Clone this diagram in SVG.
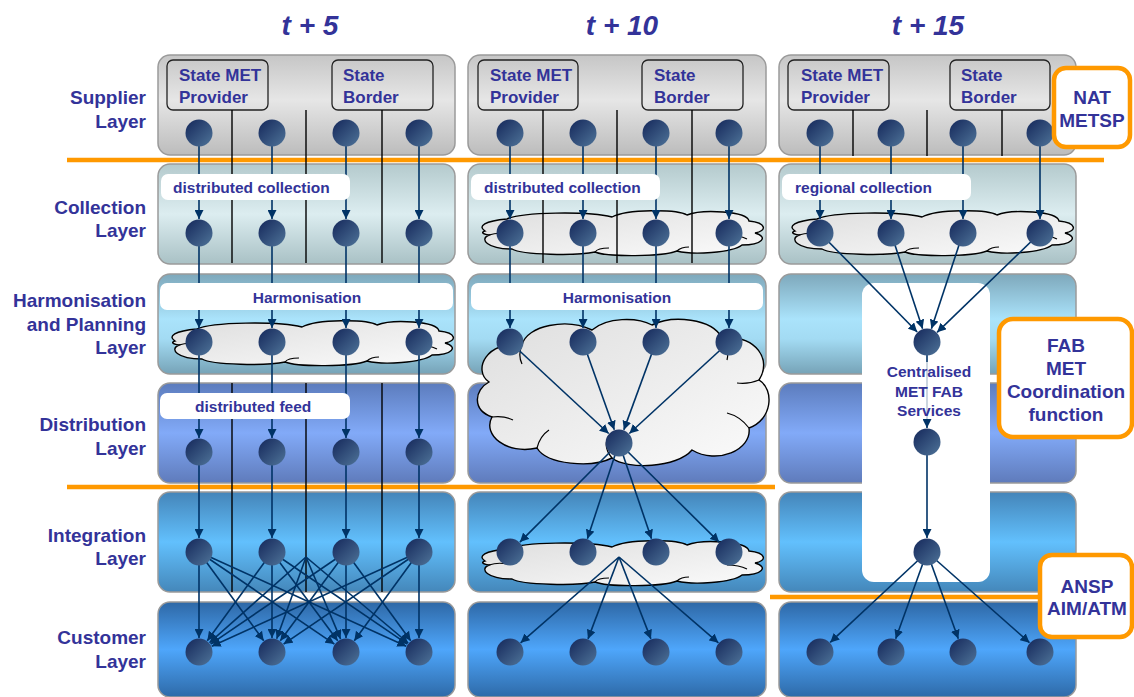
<svg xmlns="http://www.w3.org/2000/svg" xmlns:xlink="http://www.w3.org/1999/xlink" width="1134" height="697" viewBox="0 0 1134 697">
<style>
.t{font-family:"Liberation Sans",Arial,sans-serif;font-weight:bold;fill:#333399}
.lay{font-size:19px;text-anchor:end}
.ttl{font-size:28px;font-style:italic;text-anchor:middle}
.box{font-size:17px}
.bar{font-size:15.5px}
.ob{font-size:19px;text-anchor:middle}
.cen{font-size:15.5px;text-anchor:middle}
.pn{stroke:#9a9a9a;stroke-width:1.5}
.sb{fill:none;stroke:#222;stroke-width:1.3}
.dv{stroke:#000;stroke-width:1.4}
.c{stroke:#003366;stroke-width:1.6;fill:none;marker-end:url(#ah)}
.n{fill:url(#ng)}
.wb{fill:#fff}
.or{stroke:#ff9900;stroke-width:4.5;fill:none}
.obx{fill:#fff;stroke:#ff9900;stroke-width:4.5}
.cl{fill:url(#cg);stroke:#000;stroke-width:1.4}
.cr{fill:none;stroke:#000;stroke-width:1.2}
</style>
<defs>
<linearGradient id="ng" x1="0" y1="0" x2="1" y2="1"><stop offset="0" stop-color="#14275a"/><stop offset="1" stop-color="#4f7499"/></linearGradient>
<linearGradient id="cg" x1="0" y1="0" x2="1" y2="1"><stop offset="0" stop-color="#dedede"/><stop offset="1" stop-color="#fbfbfb"/></linearGradient>
<linearGradient id="gSup" x1="0" y1="0" x2="0" y2="1"><stop offset="0" stop-color="#c6c6c6"/><stop offset=".45" stop-color="#e6e6e6"/><stop offset="1" stop-color="#bcbcbc"/></linearGradient>
<linearGradient id="gCol" x1="0" y1="0" x2="0" y2="1"><stop offset="0" stop-color="#b4cacd"/><stop offset=".5" stop-color="#dcedf0"/><stop offset="1" stop-color="#a9c1c5"/></linearGradient>
<linearGradient id="gHar" x1="0" y1="0" x2="0" y2="1"><stop offset="0" stop-color="#7ea8bb"/><stop offset=".45" stop-color="#aae3fb"/><stop offset=".65" stop-color="#a3dbf3"/><stop offset="1" stop-color="#76a3b7"/></linearGradient>
<linearGradient id="gDis" x1="0" y1="0" x2="0" y2="1"><stop offset="0" stop-color="#5c7cbd"/><stop offset=".5" stop-color="#82aaf8"/><stop offset="1" stop-color="#5f7bbb"/></linearGradient>
<linearGradient id="gInt" x1="0" y1="0" x2="0" y2="1"><stop offset="0" stop-color="#4485b9"/><stop offset=".5" stop-color="#62c0fd"/><stop offset="1" stop-color="#4487ba"/></linearGradient>
<linearGradient id="gCus" x1="0" y1="0" x2="0" y2="1"><stop offset="0" stop-color="#2e68a6"/><stop offset=".5" stop-color="#4ea6fb"/><stop offset="1" stop-color="#2e6aa8"/></linearGradient>
<marker id="ah" viewBox="0 0 10 10" refX="10" refY="5" markerWidth="9" markerHeight="9" markerUnits="userSpaceOnUse" orient="auto"><path d="M0,0 L10,5 L0,10 z" fill="#003366"/></marker>
<g id="flat">
<path class="cl" d="M8,22 C0,17 8,12 30,10 C45,3 110,2 135,8 C150,0 200,0 210,6 C225,0 270,2 272,12 C290,14 290,22 278,24 C292,28 285,36 265,36 C255,44 215,46 200,42 C185,48 130,48 118,43 C100,47 45,46 35,40 C10,40 2,30 12,26 C5,25 4,23 8,22 Z"/>
<path class="cr" d="M250,26 C258,26 266,28 270,30 M118,43 C120,40 125,39 132,39 M200,42 C203,39 207,38 212,38 M12,26 C18,24 25,24 30,25"/>
</g>
</defs>

<g id="titles">
<text class="t ttl" x="310" y="35">t + 5</text>
<text class="t ttl" x="622" y="35">t + 10</text>
<text class="t ttl" x="928" y="35">t + 15</text>
</g>

<g id="layer-labels">
<text class="t lay" x="146" y="104">Supplier</text>
<text class="t lay" x="146" y="128">Layer</text>
<text class="t lay" x="146" y="214">Collection</text>
<text class="t lay" x="146" y="237">Layer</text>
<text class="t lay" x="146" y="307">Harmonisation</text>
<text class="t lay" x="146" y="331">and Planning</text>
<text class="t lay" x="146" y="354">Layer</text>
<text class="t lay" x="146" y="431">Distribution</text>
<text class="t lay" x="146" y="455">Layer</text>
<text class="t lay" x="146" y="542">Integration</text>
<text class="t lay" x="146" y="565">Layer</text>
<text class="t lay" x="146" y="644">Customer</text>
<text class="t lay" x="146" y="668">Layer</text>
</g>

<g id="panels">
<rect class="pn" x="158" y="55" width="297" height="100" rx="12" fill="url(#gSup)"/>
<rect class="pn" x="468" y="55" width="298" height="100" rx="12" fill="url(#gSup)"/>
<rect class="pn" x="779" y="55" width="297" height="100" rx="12" fill="url(#gSup)"/>
<rect class="pn" x="158" y="164" width="297" height="100" rx="12" fill="url(#gCol)"/>
<rect class="pn" x="468" y="164" width="298" height="100" rx="12" fill="url(#gCol)"/>
<rect class="pn" x="779" y="164" width="297" height="100" rx="12" fill="url(#gCol)"/>
<rect class="pn" x="158" y="274" width="297" height="100" rx="12" fill="url(#gHar)"/>
<rect class="pn" x="468" y="274" width="298" height="100" rx="12" fill="url(#gHar)"/>
<rect class="pn" x="779" y="274" width="297" height="100" rx="12" fill="url(#gHar)"/>
<rect class="pn" x="158" y="383" width="297" height="100" rx="12" fill="url(#gDis)"/>
<rect class="pn" x="468" y="383" width="298" height="100" rx="12" fill="url(#gDis)"/>
<rect class="pn" x="779" y="383" width="297" height="100" rx="12" fill="url(#gDis)"/>
<rect class="pn" x="158" y="492" width="297" height="100" rx="12" fill="url(#gInt)"/>
<rect class="pn" x="468" y="492" width="298" height="100" rx="12" fill="url(#gInt)"/>
<rect class="pn" x="779" y="492" width="297" height="100" rx="12" fill="url(#gInt)"/>
<rect class="pn" x="158" y="602" width="297" height="95" rx="12" fill="url(#gCus)"/>
<rect class="pn" x="468" y="602" width="298" height="95" rx="12" fill="url(#gCus)"/>
<rect class="pn" x="779" y="602" width="297" height="95" rx="12" fill="url(#gCus)"/>
</g>

<g id="state-boxes">
<rect class="sb" x="167" y="60" width="101" height="50" rx="6"/>
<rect class="sb" x="332" y="60" width="101" height="50" rx="6"/>
<rect class="sb" x="478" y="60" width="100" height="50" rx="6"/>
<rect class="sb" x="642" y="60" width="101" height="50" rx="6"/>
<rect class="sb" x="788" y="60" width="101" height="50" rx="6"/>
<rect class="sb" x="950" y="60" width="100" height="50" rx="6"/>
<text class="t box" x="179" y="81">State MET</text><text class="t box" x="179" y="103">Provider</text>
<text class="t box" x="343" y="81">State</text><text class="t box" x="343" y="103">Border</text>
<text class="t box" x="490" y="81">State MET</text><text class="t box" x="490" y="103">Provider</text>
<text class="t box" x="654" y="81">State</text><text class="t box" x="654" y="103">Border</text>
<text class="t box" x="801" y="81">State MET</text><text class="t box" x="801" y="103">Provider</text>
<text class="t box" x="961" y="81">State</text><text class="t box" x="961" y="103">Border</text>
</g>

<g id="central-column">
<rect x="862" y="283" width="128" height="299" rx="12" fill="#fff"/>
</g>

<g id="clouds">
<use xlink:href="#flat" href="#flat" transform="translate(167,319)"/>
<use xlink:href="#flat" href="#flat" transform="translate(477,209)"/>
<use xlink:href="#flat" href="#flat" transform="translate(787,209)"/>
<use xlink:href="#flat" href="#flat" transform="translate(477,539)"/>
<g transform="translate(477,320)">
<path class="cl" d="M12,62 C-5,50 10,20 45,25 C50,5 90,-2 115,10 C130,-3 160,-3 175,5 C195,-5 235,-2 245,18 C280,15 295,40 282,60 C298,70 295,100 272,108 C275,130 240,145 215,130 C200,148 150,150 135,138 C115,148 70,145 60,128 C30,135 5,115 15,97 C-5,90 -3,70 12,62 Z"/>
<path class="cr" d="M245,18 C250,25 252,32 250,40 M282,60 C275,63 268,64 260,63 M272,108 C266,100 258,95 250,93 M135,138 C130,132 128,126 130,120 M60,128 C62,120 66,114 72,110 M15,97 C22,96 30,97 36,100 M45,25 C42,32 42,38 45,44"/>
</g>
</g>

<g id="orange-lines">
<line class="or" x1="67" y1="160" x2="1104" y2="160"/>
<line class="or" x1="67" y1="487" x2="775" y2="487"/>
<line class="or" x1="770" y1="597" x2="1045" y2="597"/>
</g>

<g id="dividers">
<line class="dv" x1="232" y1="110" x2="232" y2="263"/>
<line class="dv" x1="306" y1="110" x2="306" y2="263"/>
<line class="dv" x1="382" y1="110" x2="382" y2="263"/>
<line class="dv" x1="232" y1="383" x2="232" y2="592"/>
<line class="dv" x1="306" y1="383" x2="306" y2="592"/>
<line class="dv" x1="382" y1="383" x2="382" y2="592"/>
<line class="dv" x1="543" y1="110" x2="543" y2="263"/>
<line class="dv" x1="617" y1="110" x2="617" y2="263"/>
<line class="dv" x1="692" y1="110" x2="692" y2="263"/>
<line class="dv" x1="853" y1="110" x2="853" y2="156"/>
<line class="dv" x1="927" y1="110" x2="927" y2="156"/>
<line class="dv" x1="1002" y1="110" x2="1002" y2="156"/>
</g>

<g id="connectors">
<!-- supplier to collection -->
<path class="c" d="M199,146 V219"/><path class="c" d="M272,146 V219"/><path class="c" d="M346,146 V219"/><path class="c" d="M419,146 V219"/>
<path class="c" d="M510,146 V219"/><path class="c" d="M583,146 V219"/><path class="c" d="M656,146 V219"/><path class="c" d="M729,146 V219"/>
<path class="c" d="M820,146 V219"/><path class="c" d="M891,146 V219"/><path class="c" d="M963,146 V219"/><path class="c" d="M1040,146 V219"/>
<!-- collection to harmonisation -->
<path class="c" d="M199,246 V328"/><path class="c" d="M272,246 V328"/><path class="c" d="M346,246 V328"/><path class="c" d="M419,246 V328"/>
<path class="c" d="M510,246 V328"/><path class="c" d="M583,246 V328"/><path class="c" d="M656,246 V328"/><path class="c" d="M729,246 V328"/>
<path class="c" d="M820,233 L917.2,332"/><path class="c" d="M891,233 L922.6,328.7"/><path class="c" d="M963,233 L931.4,328.7"/><path class="c" d="M1040,233 L937.1,332.3"/>
<!-- harmonisation to distribution -->
<path class="c" d="M199,355 V438"/><path class="c" d="M272,355 V438"/><path class="c" d="M346,355 V438"/><path class="c" d="M419,355 V438"/>
<path class="c" d="M510,342 L608.7,433.5"/><path class="c" d="M583,342 L614.3,429.8"/><path class="c" d="M656,342 L623.8,429.9"/><path class="c" d="M729,342 L629.3,433.5"/>
<path class="c" d="M927,355 V428"/>
<!-- distribution to integration -->
<path class="c" d="M199,465 V538"/><path class="c" d="M272,465 V538"/><path class="c" d="M346,465 V538"/><path class="c" d="M419,465 V538"/>
<path class="c" d="M619,443 L519.9,542.1"/><path class="c" d="M619,443 L587.4,538.7"/><path class="c" d="M619,443 L651.5,538.7"/><path class="c" d="M619,443 L719.1,542.1"/>
<path class="c" d="M927,455 V538"/>
<!-- integration to customer -->
<path class="c" d="M199,552 L199,638"/><path class="c" d="M199,552 L263.7,640.7"/><path class="c" d="M199,552 L334.4,644.1"/><path class="c" d="M199,552 L406.3,646.2"/>
<path class="c" d="M272,552 L207.3,640.7"/><path class="c" d="M272,552 L272,638"/><path class="c" d="M272,552 L337.7,640.7"/><path class="c" d="M272,552 L407.4,644.1"/>
<path class="c" d="M346,552 L210.6,644.1"/><path class="c" d="M346,552 L280.3,640.7"/><path class="c" d="M346,552 L346,638"/><path class="c" d="M346,552 L410.7,640.7"/>
<path class="c" d="M419,552 L211.7,646.2"/><path class="c" d="M419,552 L283.6,644.1"/><path class="c" d="M419,552 L354.3,640.7"/><path class="c" d="M419,552 L419,638"/>
<path class="c" d="M306,557 L209.5,642.7"/><path class="c" d="M306,557 L276.7,638.8"/><path class="c" d="M306,557 L340.6,639.1"/><path class="c" d="M306,557 L408.2,643"/>
<path class="c" d="M619,557 L520.6,642.8"/><path class="c" d="M619,557 L588,638.9"/><path class="c" d="M619,557 L650.9,638.9"/><path class="c" d="M619,557 L718.4,642.8"/>
<path class="c" d="M927,552 L830.2,642.4"/><path class="c" d="M927,552 L895.7,638.8"/><path class="c" d="M927,552 L958.3,638.8"/><path class="c" d="M927,552 L1029.5,642.7"/>
</g>

<g id="label-bars">
<rect class="wb" x="161" y="174" width="189" height="26" rx="7"/>
<text class="t bar" x="173" y="193">distributed collection</text>
<rect class="wb" x="471" y="174" width="189" height="26" rx="7"/>
<text class="t bar" x="484" y="193">distributed collection</text>
<rect class="wb" x="782" y="174" width="189" height="26" rx="7"/>
<text class="t bar" x="795" y="193">regional collection</text>
<rect class="wb" x="160" y="283" width="293" height="27" rx="7"/>
<text class="t bar" x="307" y="303" text-anchor="middle">Harmonisation</text>
<rect class="wb" x="471" y="283" width="292" height="27" rx="7"/>
<text class="t bar" x="617" y="303" text-anchor="middle">Harmonisation</text>
<rect class="wb" x="160" y="393" width="190" height="26" rx="7"/>
<text class="t bar" x="195" y="412">distributed feed</text>
</g>

<g id="centralised-label">
<rect x="870" y="362" width="120" height="57" fill="#fff" fill-opacity="0.75"/>
<text class="t cen" x="929" y="377">Centralised</text>
<text class="t cen" x="929" y="397">MET FAB</text>
<text class="t cen" x="929" y="416">Services</text>
</g>

<g id="nodes">
<circle id="n1s1" class="n" cx="199" cy="133" r="13.5"/><circle id="n1s2" class="n" cx="272" cy="133" r="13.5"/><circle id="n1s3" class="n" cx="346" cy="133" r="13.5"/><circle id="n1s4" class="n" cx="419" cy="133" r="13.5"/>
<circle id="n2s1" class="n" cx="510" cy="133" r="13.5"/><circle id="n2s2" class="n" cx="583" cy="133" r="13.5"/><circle id="n2s3" class="n" cx="656" cy="133" r="13.5"/><circle id="n2s4" class="n" cx="729" cy="133" r="13.5"/>
<circle id="n3s1" class="n" cx="820" cy="133" r="13.5"/><circle id="n3s2" class="n" cx="891" cy="133" r="13.5"/><circle id="n3s3" class="n" cx="963" cy="133" r="13.5"/><circle id="n3s4" class="n" cx="1040" cy="133" r="13.5"/>
<circle id="n1c1" class="n" cx="199" cy="233" r="13.5"/><circle id="n1c2" class="n" cx="272" cy="233" r="13.5"/><circle id="n1c3" class="n" cx="346" cy="233" r="13.5"/><circle id="n1c4" class="n" cx="419" cy="233" r="13.5"/>
<circle id="n2c1" class="n" cx="510" cy="233" r="13.5"/><circle id="n2c2" class="n" cx="583" cy="233" r="13.5"/><circle id="n2c3" class="n" cx="656" cy="233" r="13.5"/><circle id="n2c4" class="n" cx="729" cy="233" r="13.5"/>
<circle id="n3c1" class="n" cx="820" cy="233" r="13.5"/><circle id="n3c2" class="n" cx="891" cy="233" r="13.5"/><circle id="n3c3" class="n" cx="963" cy="233" r="13.5"/><circle id="n3c4" class="n" cx="1040" cy="233" r="13.5"/>
<circle id="n1h1" class="n" cx="199" cy="342" r="13.5"/><circle id="n1h2" class="n" cx="272" cy="342" r="13.5"/><circle id="n1h3" class="n" cx="346" cy="342" r="13.5"/><circle id="n1h4" class="n" cx="419" cy="342" r="13.5"/>
<circle id="n2h1" class="n" cx="510" cy="342" r="13.5"/><circle id="n2h2" class="n" cx="583" cy="342" r="13.5"/><circle id="n2h3" class="n" cx="656" cy="342" r="13.5"/><circle id="n2h4" class="n" cx="729" cy="342" r="13.5"/>
<circle id="n3h" class="n" cx="927" cy="342" r="13.5"/>
<circle id="n1d1" class="n" cx="199" cy="452" r="13.5"/><circle id="n1d2" class="n" cx="272" cy="452" r="13.5"/><circle id="n1d3" class="n" cx="346" cy="452" r="13.5"/><circle id="n1d4" class="n" cx="419" cy="452" r="13.5"/>
<circle id="n2d" class="n" cx="619" cy="443" r="13.5"/>
<circle id="n3d" class="n" cx="927" cy="442" r="13.5"/>
<circle id="n1i1" class="n" cx="199" cy="552" r="13.5"/><circle id="n1i2" class="n" cx="272" cy="552" r="13.5"/><circle id="n1i3" class="n" cx="346" cy="552" r="13.5"/><circle id="n1i4" class="n" cx="419" cy="552" r="13.5"/>
<circle id="n2i1" class="n" cx="510" cy="552" r="13.5"/><circle id="n2i2" class="n" cx="583" cy="552" r="13.5"/><circle id="n2i3" class="n" cx="656" cy="552" r="13.5"/><circle id="n2i4" class="n" cx="729" cy="552" r="13.5"/>
<circle id="n3i" class="n" cx="927" cy="552" r="13.5"/>
<circle id="n1u1" class="n" cx="199" cy="652" r="13.5"/><circle id="n1u2" class="n" cx="272" cy="652" r="13.5"/><circle id="n1u3" class="n" cx="346" cy="652" r="13.5"/><circle id="n1u4" class="n" cx="419" cy="652" r="13.5"/>
<circle id="n2u1" class="n" cx="510" cy="652" r="13.5"/><circle id="n2u2" class="n" cx="583" cy="652" r="13.5"/><circle id="n2u3" class="n" cx="656" cy="652" r="13.5"/><circle id="n2u4" class="n" cx="729" cy="652" r="13.5"/>
<circle id="n3u1" class="n" cx="820" cy="652" r="13.5"/><circle id="n3u2" class="n" cx="891" cy="652" r="13.5"/><circle id="n3u3" class="n" cx="963" cy="652" r="13.5"/><circle id="n3u4" class="n" cx="1040" cy="652" r="13.5"/>
</g>

<g id="nat-metsp">
<rect class="obx" x="1054" y="68" width="76" height="79" rx="12"/>
<text class="t ob" x="1092" y="104">NAT</text>
<text class="t ob" x="1092" y="127">METSP</text>
</g>
<g id="fab-met">
<rect class="obx" x="999" y="319" width="133" height="118" rx="14"/>
<text class="t ob" x="1066" y="352">FAB</text>
<text class="t ob" x="1066" y="375">MET</text>
<text class="t ob" x="1066" y="398">Coordination</text>
<text class="t ob" x="1066" y="421">function</text>
</g>
<g id="ansp">
<rect class="obx" x="1040" y="555" width="92" height="82" rx="12"/>
<text class="t ob" x="1087" y="593">ANSP</text>
<text class="t ob" x="1087" y="615">AIM/ATM</text>
</g>
</svg>
